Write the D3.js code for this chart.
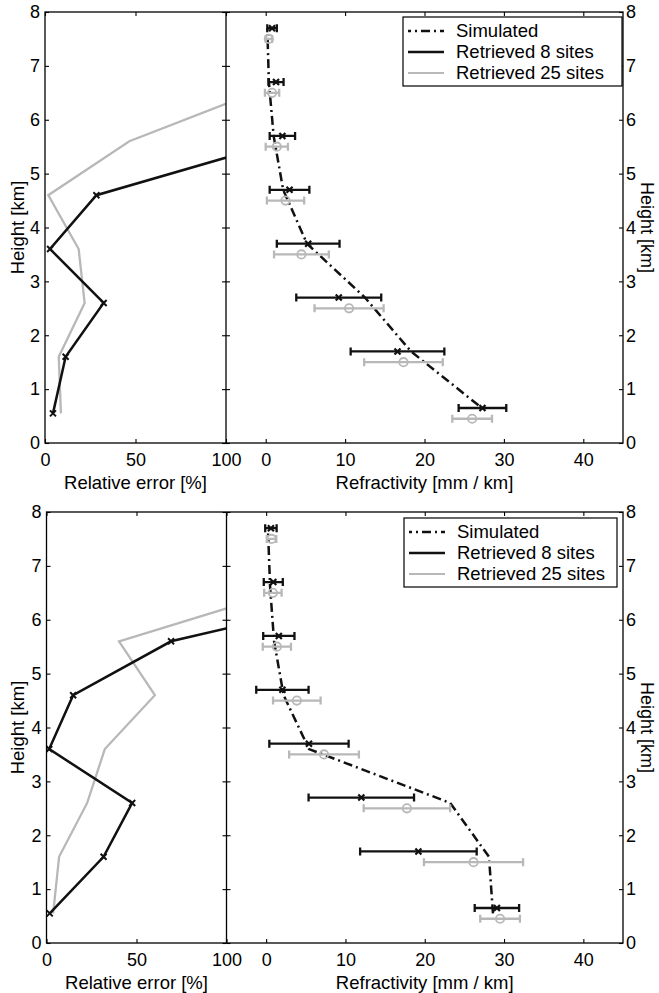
<!DOCTYPE html>
<html><head><meta charset="utf-8">
<script src="https://cdn.jsdelivr.net/npm/d3@7"></script>
<style>
body{margin:0;background:#fff;}
svg{display:block;font-family:"Liberation Sans",Arial,Helvetica,sans-serif;}
</style></head>
<body><svg id="c" width="659" height="993"></svg>
<script>
// ---------- data ----------
const errLevels = [0.55, 1.6, 2.6, 3.6, 4.6, 5.6, 6.6];
const topRelErr8 = [4.4, 11.4, 32.4, 2.8, 28.4, 131];
const topRelErr25 = [8.8, 7.6, 21.9, 18.6, 1.8, 46.6, 123];
const botRelErr8 = [1.8, 31.7, 47.6, 1.5, 14.8, 69.2, 197];
const botRelErr25 = [3.7, 7.0, 22.6, 32.4, 60.2, 40.3, 138];

const levels = [0.55, 1.6, 2.6, 3.6, 4.6, 5.6, 6.6, 7.6];
const topSimHeights = [0.7, 1.7, 2.7, 3.7, 4.7, 5.7, 6.7, 7.7];
const topSim = [26.8, 18.3, 12.5, 5.2, 2.2, 1.0, 0.4, 0.2];
const topRet8 = [27.3, 16.6, 9.2, 5.35, 3.0, 2.1, 1.3, 0.8];
const topRet8Err = [3.0, 5.9, 5.35, 3.95, 2.5, 1.6, 0.95, 0.6];
const topRet25 = [26.0, 17.35, 10.5, 4.5, 2.5, 1.4, 0.8, 0.4];
const topRet25Err = [2.5, 4.95, 4.35, 3.45, 2.35, 1.4, 0.9, 0.4];

const botSimHeights = [0.55, 1.6, 2.6, 3.6, 4.6, 5.6, 6.6, 7.6];
const botSim = [28.6, 28.1, 23.2, 5.4, 2.2, 1.0, 0.5, 0.25];
const botRet8 = [29.1, 19.2, 12.0, 5.4, 2.05, 1.6, 0.9, 0.6];
const botRet8Err = [2.8, 7.35, 6.65, 5.0, 3.3, 1.97, 1.2, 0.72];
const botRet25 = [29.5, 26.15, 17.75, 7.3, 3.87, 1.35, 0.85, 0.68];
const botRet25Err = [2.5, 6.25, 5.45, 4.4, 3.0, 1.78, 1.1, 0.6];

const heightTicks = [0, 1, 2, 3, 4, 5, 6, 7, 8];
const errTicks = [0, 50, 100];
const refrTicks = [0, 10, 20, 30, 40];
const legendLabels = ["Simulated", "Retrieved 8 sites", "Retrieved 25 sites"];

// ---------- style ----------
const BLACK = "#111";
const GRAY = "#b8b8b8";
const svg = d3.select("#c");

function panel(cfg, idx) {
  const g = svg.append("g");
  const y = d3.scaleLinear().domain([0, 8]).range([cfg.yBot, cfg.yTop]);
  const xL = d3.scaleLinear().domain([0, 100]).range([cfg.xL, cfg.xM]);
  const xR = d3.scaleLinear().domain([-5, 45]).range([cfg.xM, cfg.xR]);

  const clipId = "clip" + idx;
  svg.append("clipPath").attr("id", clipId).append("rect")
    .attr("x", cfg.xL).attr("y", cfg.yTop).attr("width", cfg.xM - cfg.xL).attr("height", cfg.yBot - cfg.yTop);

  // ---- left panel lines ----
  const lineFn = (xs) => d3.line().x((d, i) => xs(d)).y((d, i) => y(errLevels[i]));
  const lg = g.append("g").attr("clip-path", `url(#${clipId})`);
  lg.append("path").datum(cfg.rel25).attr("d", lineFn(xL))
    .attr("fill", "none").attr("stroke", GRAY).attr("stroke-width", 2.3);
  lg.append("path").datum(cfg.rel8).attr("d", lineFn(xL))
    .attr("fill", "none").attr("stroke", BLACK).attr("stroke-width", 2.5);
  cfg.rel8.forEach((v, i) => {
    if (v > 100) return;
    const cx = xL(v), cy = y(errLevels[i]);
    lg.append("path").attr("d", `M${cx-3},${cy-3}L${cx+3},${cy+3}M${cx-3},${cy+3}L${cx+3},${cy-3}`)
      .attr("stroke", BLACK).attr("stroke-width", 2);
  });

  // ---- right panel ----
  const rg = g.append("g");
  rg.append("path").datum(cfg.sim)
    .attr("d", d3.line().x(d => xR(d)).y((d, i) => y(cfg.simH[i])))
    .attr("fill", "none").attr("stroke", BLACK).attr("stroke-width", 2.5)
    .attr("stroke-dasharray", "9,4,2,4");

  function errbars(vals, errs, off, color, marker) {
    vals.forEach((v, i) => {
      const yy = y(levels[i] + off);
      const a = xR(v - errs[i]), b = xR(v + errs[i]);
      rg.append("path")
        .attr("d", `M${a},${yy}H${b}M${a},${yy-4}V${yy+4}M${b},${yy-4}V${yy+4}`)
        .attr("fill", "none").attr("stroke", color).attr("stroke-width", 2.3);
      const cx = xR(v);
      if (marker === "x") {
        rg.append("path").attr("d", `M${cx-3},${yy-3}L${cx+3},${yy+3}M${cx-3},${yy+3}L${cx+3},${yy-3}`)
          .attr("stroke", color).attr("stroke-width", 2.2);
      } else {
        rg.append("circle").attr("cx", cx).attr("cy", yy).attr("r", 4.2)
          .attr("fill", "none").attr("stroke", color).attr("stroke-width", 1.8);
      }
    });
  }
  errbars(cfg.ret25, cfg.ret25e, -0.1, GRAY, "o");
  errbars(cfg.ret8, cfg.ret8e, 0.1, BLACK, "x");

  // ---- axes ----
  const ax = g.append("g");
  function style(sel, labels) {
    sel.select(".domain").remove();
    sel.selectAll("line").attr("stroke", "#000").attr("stroke-width", 1.1);
    sel.selectAll("text").attr("fill", "#000").attr("font-size", 18)
      .attr("font-family", '"Liberation Sans",Arial,sans-serif');
    if (!labels) sel.selectAll("text").remove();
  }
  style(ax.append("g").attr("transform", `translate(0,${cfg.yBot})`)
    .call(d3.axisBottom(xL).tickValues(errTicks).tickSizeInner(-4).tickSizeOuter(0).tickPadding(10)), true);
  style(ax.append("g").attr("transform", `translate(0,${cfg.yTop})`)
    .call(d3.axisTop(xL).tickValues(errTicks).tickSizeInner(-4).tickSizeOuter(0)), false);
  style(ax.append("g").attr("transform", `translate(${cfg.xL},0)`)
    .call(d3.axisLeft(y).tickValues(heightTicks).tickSizeInner(-4).tickSizeOuter(0).tickPadding(5)), true);
  style(ax.append("g").attr("transform", `translate(${cfg.xM},0)`)
    .call(d3.axisRight(y).tickValues(heightTicks).tickSizeInner(-4).tickSizeOuter(0)), false);

  style(ax.append("g").attr("transform", `translate(0,${cfg.yBot})`)
    .call(d3.axisBottom(xR).tickValues(refrTicks).tickSizeInner(-4).tickSizeOuter(0).tickPadding(10)), true);
  style(ax.append("g").attr("transform", `translate(0,${cfg.yTop})`)
    .call(d3.axisTop(xR).tickValues(refrTicks).tickSizeInner(-4).tickSizeOuter(0)), false);
  style(ax.append("g").attr("transform", `translate(${cfg.xM},0)`)
    .call(d3.axisLeft(y).tickValues(heightTicks).tickSizeInner(-4).tickSizeOuter(0)), false);
  style(ax.append("g").attr("transform", `translate(${cfg.xR},0)`)
    .call(d3.axisRight(y).tickValues(heightTicks).tickSizeInner(-4).tickSizeOuter(0).tickPadding(3)), true);

  // frames
  g.append("rect").attr("x", cfg.xL).attr("y", cfg.yTop).attr("width", cfg.xR - cfg.xL)
    .attr("height", cfg.yBot - cfg.yTop).attr("fill", "none").attr("stroke", "#000").attr("stroke-width", 1.3);
  g.append("line").attr("x1", cfg.xM).attr("x2", cfg.xM).attr("y1", cfg.yTop).attr("y2", cfg.yBot)
    .attr("stroke", "#000").attr("stroke-width", 1.3);

  // axis labels
  const lab = g.append("g").attr("font-size", 18.5).attr("fill", "#000").attr("text-anchor", "middle");
  lab.append("text").attr("x", (cfg.xL + cfg.xM) / 2).attr("y", cfg.yBot + 46).text("Relative error [%]");
  lab.append("text").attr("x", (cfg.xM + cfg.xR) / 2).attr("y", cfg.yBot + 46).text("Refractivity [mm / km]");
  const ym = (cfg.yTop + cfg.yBot) / 2;
  lab.append("text").attr("transform", `translate(24,${ym}) rotate(-90)`).text("Height [km]");
  lab.append("text").attr("transform", `translate(641,${ym}) rotate(90)`).attr("font-size", 18).text("Height [km]");

  // legend
  const L = cfg.legend;
  const leg = g.append("g");
  leg.append("rect").attr("x", L.x).attr("y", L.y).attr("width", L.w).attr("height", 69)
    .attr("fill", "#fff").attr("stroke", "#000").attr("stroke-width", 1.2);
  const rows = [14, 35, 56];
  const styles = [
    {c: BLACK, w: 2.4, dash: "9,4,2,4"},
    {c: BLACK, w: 2.4, dash: null},
    {c: GRAY, w: 2.2, dash: null}
  ];
  legendLabels.forEach((t, i) => {
    const yy = L.y + rows[i];
    const ln = leg.append("line").attr("x1", L.x + 5).attr("x2", L.x + 41).attr("y1", yy).attr("y2", yy)
      .attr("stroke", styles[i].c).attr("stroke-width", styles[i].w);
    if (styles[i].dash) ln.attr("stroke-dasharray", styles[i].dash).attr("stroke-dashoffset", 6);
    leg.append("text").attr("x", L.x + 53).attr("y", yy).attr("dy", "0.35em")
      .attr("font-size", 18.5).attr("fill", "#000").text(t);
  });
}

panel({
  yTop: 12, yBot: 443, xL: 45, xM: 226, xR: 623,
  rel8: topRelErr8, rel25: topRelErr25,
  sim: topSim, simH: topSimHeights,
  ret8: topRet8, ret8e: topRet8Err, ret25: topRet25, ret25e: topRet25Err,
  legend: {x: 403, y: 17, w: 219}
}, 0);
panel({
  yTop: 512, yBot: 943, xL: 46.5, xM: 226.5, xR: 623,
  rel8: botRelErr8, rel25: botRelErr25,
  sim: botSim, simH: botSimHeights,
  ret8: botRet8, ret8e: botRet8Err, ret25: botRet25, ret25e: botRet25Err,
  legend: {x: 404, y: 518, w: 213}
}, 1);
</script></body></html>
